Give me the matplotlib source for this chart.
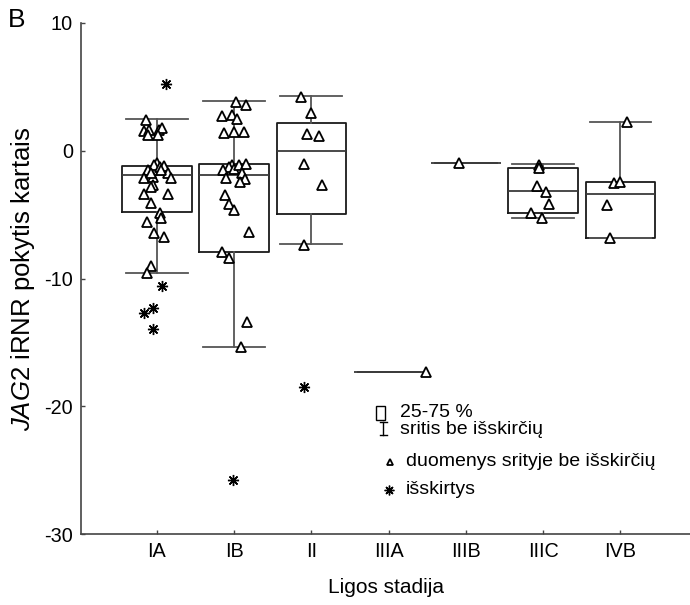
import numpy as np
import matplotlib
matplotlib.use('Agg')
import matplotlib.pyplot as plt
from matplotlib.lines import Line2D
from matplotlib.patches import Rectangle
from matplotlib.transforms import Affine2D

plt.rcParams['font.family'] = ['Liberation Sans', 'DejaVu Sans']
plt.rcParams['mathtext.fontset'] = 'custom'
plt.rcParams['mathtext.it'] = 'Liberation Sans:italic'
plt.rcParams['mathtext.rm'] = 'Liberation Sans'
plt.rcParams['axes.unicode_minus'] = False

# ligos stadijos
stages = ['IA', 'IB', 'II', 'IIIA', 'IIIB', 'IIIC', 'IVB']

# staciakampiu statistika (nuskaityta is paveikslo)
whis_lo = [-9.54, -15.33, -7.3, -17.28, -0.98, -5.24, -6.8]
q1 = [-4.82, -7.95, -4.97, -17.28, -0.98, -4.9, -6.8]
med = [-1.9, -1.9, 0.0, -17.28, -0.98, -3.15, -3.39]
q3 = [-1.17, -1.06, 2.2, -17.28, -0.98, -1.38, -2.42]
whis_hi = [2.47, 3.92, 4.29, -17.28, -0.98, -1.06, 2.28]

# duomenys srityje be isskirciu (reiksme, x poslinkis)
ia_vals = [2.40, 1.57, 1.62, 1.23, 1.62, 1.76, 1.23,
           -0.98, -1.12, -1.51, -1.30, -1.19, -1.77, -2.16, -2.08, -2.16, -2.68, -2.81, -1.51, -1.77,
           -3.39, -3.39, -4.06, -4.90, -5.29, -5.60, -6.46, -6.72, -9.02, -9.59]
ia_jit = [-0.14, -0.16, -0.10, -0.11, 0.03, 0.07, 0.02,
          0.0, -0.03, -0.11, 0.04, 0.09, 0.15, -0.16, -0.05, 0.18, -0.05, -0.08, 0.06, -0.07,
          -0.17, 0.15, -0.08, 0.04, 0.06, -0.13, -0.04, 0.10, -0.07, -0.13]
ib_vals = [3.84, 3.58, 2.72, 2.80, 2.46, 1.42, 1.47, 1.47,
           -1.12, -1.30, -1.51, -1.45, -1.12, -1.04, -1.77, -2.16, -2.24, -2.42,
           -3.46, -4.17, -4.64, -6.33, -7.90, -8.37, -13.38, -15.34]
ib_jit = [0.03, 0.16, -0.15, -0.03, 0.04, -0.13, 0.0, 0.13,
          -0.03, -0.07, -0.14, 0.0, 0.07, 0.16, 0.10, -0.10, 0.14, 0.08,
          -0.12, -0.06, 0.0, 0.19, -0.15, -0.06, 0.17, 0.09]
ii_vals = [4.23, 2.98, 1.31, 1.15, -1.04, -2.68, -7.4]
ii_jit = [-0.13, 0.0, -0.05, 0.10, -0.10, 0.14, -0.10]
iiia_vals = [-17.28]
iiia_jit = [0.49]
iiib_vals = [-0.98]
iiib_jit = [-0.09]
iiic_vals = [-1.12, -1.37, -2.76, -3.2, -4.17, -4.9, -5.3]
iiic_jit = [-0.05, -0.05, -0.08, 0.04, 0.08, -0.16, -0.01]
ivb_vals = [2.28, -2.5, -2.42, -4.25, -6.85]
ivb_jit = [0.08, -0.08, -0.01, -0.17, -0.13]

points = [(ia_vals, ia_jit), (ib_vals, ib_jit), (ii_vals, ii_jit), (iiia_vals, iiia_jit),
          (iiib_vals, iiib_jit), (iiic_vals, iiic_jit), (ivb_vals, ivb_jit)]

# isskirtys
out_stage = [1, 1, 1, 1, 1, 2, 3]
out_vals = [5.2, -10.59, -12.33, -12.73, -13.98, -25.8, -18.47]
out_jit = [0.12, 0.07, -0.05, -0.16, -0.05, -0.01, -0.09]

fig = plt.figure(figsize=(6.9, 6.05), dpi=100)
ax = fig.add_axes([81/690, 1-534/605, 1-81/690, (534-23)/605])

stats = []
for i in range(len(stages)):
    stats.append({'whislo': whis_lo[i], 'q1': q1[i], 'med': med[i], 'q3': q3[i],
                  'whishi': whis_hi[i], 'fliers': []})

pos = np.arange(1, len(stages)+1)
box_idx = [0, 1, 2, 5, 6]
line_idx = [3, 4]
boxkw = dict(boxprops=dict(color='#1a1a1a', lw=1.3),
             whiskerprops=dict(color='#555555', lw=1.3),
             capprops=dict(color='#555555', lw=1.3),
             medianprops=dict(color='#3a3a3a', lw=1.3),
             showfliers=False, manage_ticks=False)
ax.bxp([stats[i] for i in box_idx], positions=pos[box_idx], widths=0.9,
       capwidths=0.8, **boxkw)
ax.bxp([stats[i] for i in line_idx], positions=pos[line_idx], widths=0.9,
       capwidths=0.8, showbox=False, **boxkw)

for i, (vals, jit) in enumerate(points):
    ax.plot(pos[i] + np.array(jit), vals, ls='none', marker='^', ms=6.5,
            mfc='white', mec='black', mew=1.3, zorder=5)

ax.plot(np.array(out_stage) + np.array(out_jit), out_vals, ls='none',
        marker=(8, 2, 0), ms=8, mec='black', mew=1.0, zorder=5)

ax.set_xlim(0.02, 7.9)
ax.set_ylim(-30, 10)
ax.set_yticks([10, 0, -10, -20, -30])
ax.set_xticks(pos)
ax.set_xticklabels(stages)
for s in ['top', 'right']:
    ax.spines[s].set_visible(False)
for s in ['left', 'bottom']:
    ax.spines[s].set_color('#444444')
    ax.spines[s].set_linewidth(1.2)
ax.tick_params(axis='both', direction='in', length=3, width=1, color='#444444',
               labelsize=14.3)
ax.tick_params(axis='y', pad=5.8)
ax.tick_params(axis='x', pad=6.0)

ax.set_ylabel(r'$\mathit{JAG2}$ iRNR pokytis kartais', fontsize=18.5)
ax.yaxis.set_label_coords(-0.095, 0.5)
ax.yaxis.label.set_va('center')
ax.set_xlabel('Ligos stadija', fontsize=15)
ax.xaxis.set_label_coords(0.5, -0.104)
ax.xaxis.label.set_va('center')

fig.text(8/690, 1-20/605, 'B', fontsize=19, va='center', ha='left')

# legenda pikseliu koordinatemis
pix = Affine2D().scale(1/690, -1/605).translate(0, 1) + fig.transFigure
fig.add_artist(Rectangle((376, 406), 9, 14, transform=pix, fill=False,
                         ec='black', lw=1))
fig.add_artist(Line2D([383, 383], [422, 435], transform=pix, color='black', lw=1))
fig.add_artist(Line2D([379.5, 386.5], [422, 422], transform=pix, color='black', lw=1))
fig.add_artist(Line2D([379.5, 386.5], [435, 435], transform=pix, color='black', lw=1))
fig.add_artist(Line2D([389.5], [462], transform=pix, ls='none', marker='^', ms=5,
                      mfc='white', mec='black', mew=1.3))
fig.add_artist(Line2D([389], [490], transform=pix, ls='none', marker=(8, 2, 0),
                      ms=7, mec='black', mew=1.0))
leg_txt = ['25-75 %', 'sritis be išskirčių', 'duomenys srityje be išskirčių', 'išskirtys']
leg_x = [400, 400, 406, 406]
leg_y = [412.5, 430, 461.7, 490]
for t, x, y in zip(leg_txt, leg_x, leg_y):
    fig.text(x, y, t, transform=pix, fontsize=14, va='center', ha='left')

fig.savefig('out.png', dpi=100)
